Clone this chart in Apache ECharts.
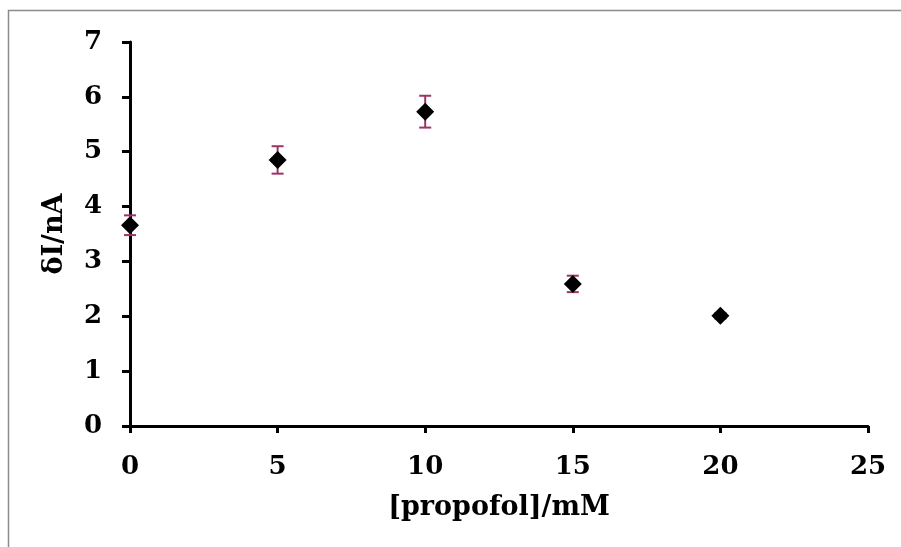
<!DOCTYPE html>
<html>
<head>
<meta charset="utf-8">
<script src="https://cdn.jsdelivr.net/npm/echarts@6/dist/echarts.min.js"></script>
<style>
  html, body { margin: 0; padding: 0; background: #fff; }
  #chart { width: 901px; height: 547px; }
</style>
</head>
<body>
<div id="chart"></div>
<script>
// Propofol concentration (mM) vs current change δI (nA), with standard error
const concentrations = [0, 5, 10, 15, 20];
const deltaI = [3.66, 4.85, 5.73, 2.59, 2.01];
const errors = [0.18, 0.25, 0.29, 0.15, 0.05];
const xTicks = [0, 5, 10, 15, 20, 25];
const yTicks = [0, 1, 2, 3, 4, 5, 6, 7];

const FONT = "'DejaVu Serif', 'Liberation Serif', serif";

const points = concentrations.map((c, i) => [c, deltaI[i]]);
const bars = concentrations.map((c, i) => [c, deltaI[i] - errors[i], deltaI[i] + errors[i]]);

const chart = echarts.init(document.getElementById('chart'));
chart.setOption({
  animation: false,
  backgroundColor: '#ffffff',
  grid: { left: 130, right: 33, top: 42, bottom: 121 },
  graphic: [{
    type: 'rect',
    shape: { x: 8.5, y: 10.5, width: 1000, height: 1000 },
    style: { fill: 'none', stroke: '#8c8c8c', lineWidth: 1.5 },
    silent: true
  }],
  xAxis: {
    type: 'value',
    min: xTicks[0], max: xTicks[xTicks.length - 1], interval: 5,
    name: '[propofol]/mM',
    nameLocation: 'middle',
    nameGap: 68,
    nameTextStyle: { fontFamily: FONT, fontWeight: 'bold', fontSize: 27, color: '#000' },
    splitLine: { show: false },
    axisLine: { lineStyle: { color: '#000', width: 3 } },
    axisTick: { inside: false, length: 7, lineStyle: { color: '#000', width: 3 } },
    axisLabel: { margin: 28, fontFamily: FONT, fontWeight: 'bold', fontSize: 26, color: '#000' }
  },
  yAxis: {
    type: 'value',
    min: yTicks[0], max: yTicks[yTicks.length - 1], interval: 1,
    name: 'δI/nA',
    nameLocation: 'middle',
    nameGap: 62,
    nameTextStyle: { fontFamily: FONT, fontWeight: 'bold', fontSize: 27, color: '#000' },
    splitLine: { show: false },
    axisLine: { show: true, lineStyle: { color: '#000', width: 3 } },
    axisTick: { show: true, inside: false, length: 8, lineStyle: { color: '#000', width: 3 } },
    axisLabel: { margin: 28, fontFamily: FONT, fontWeight: 'bold', fontSize: 26, color: '#000' }
  },
  series: [
    {
      // vertical error bars with end caps
      type: 'custom',
      data: bars,
      z: 2,
      renderItem: function (params, api) {
        const x = api.value(0);
        const lo = api.coord([x, api.value(1)]);
        const hi = api.coord([x, api.value(2)]);
        const cap = 6;
        const style = { stroke: '#9c3468', lineWidth: 2 };
        return {
          type: 'group',
          children: [
            { type: 'line', shape: { x1: lo[0], y1: lo[1], x2: hi[0], y2: hi[1] }, style: style },
            { type: 'line', shape: { x1: lo[0] - cap, y1: lo[1], x2: lo[0] + cap, y2: lo[1] }, style: style },
            { type: 'line', shape: { x1: hi[0] - cap, y1: hi[1], x2: hi[0] + cap, y2: hi[1] }, style: style }
          ]
        };
      }
    },
    {
      type: 'scatter',
      data: points,
      symbol: 'diamond',
      symbolSize: 18,
      z: 3,
      itemStyle: { color: '#000', opacity: 1 }
    }
  ]
});
</script>
</body>
</html>
